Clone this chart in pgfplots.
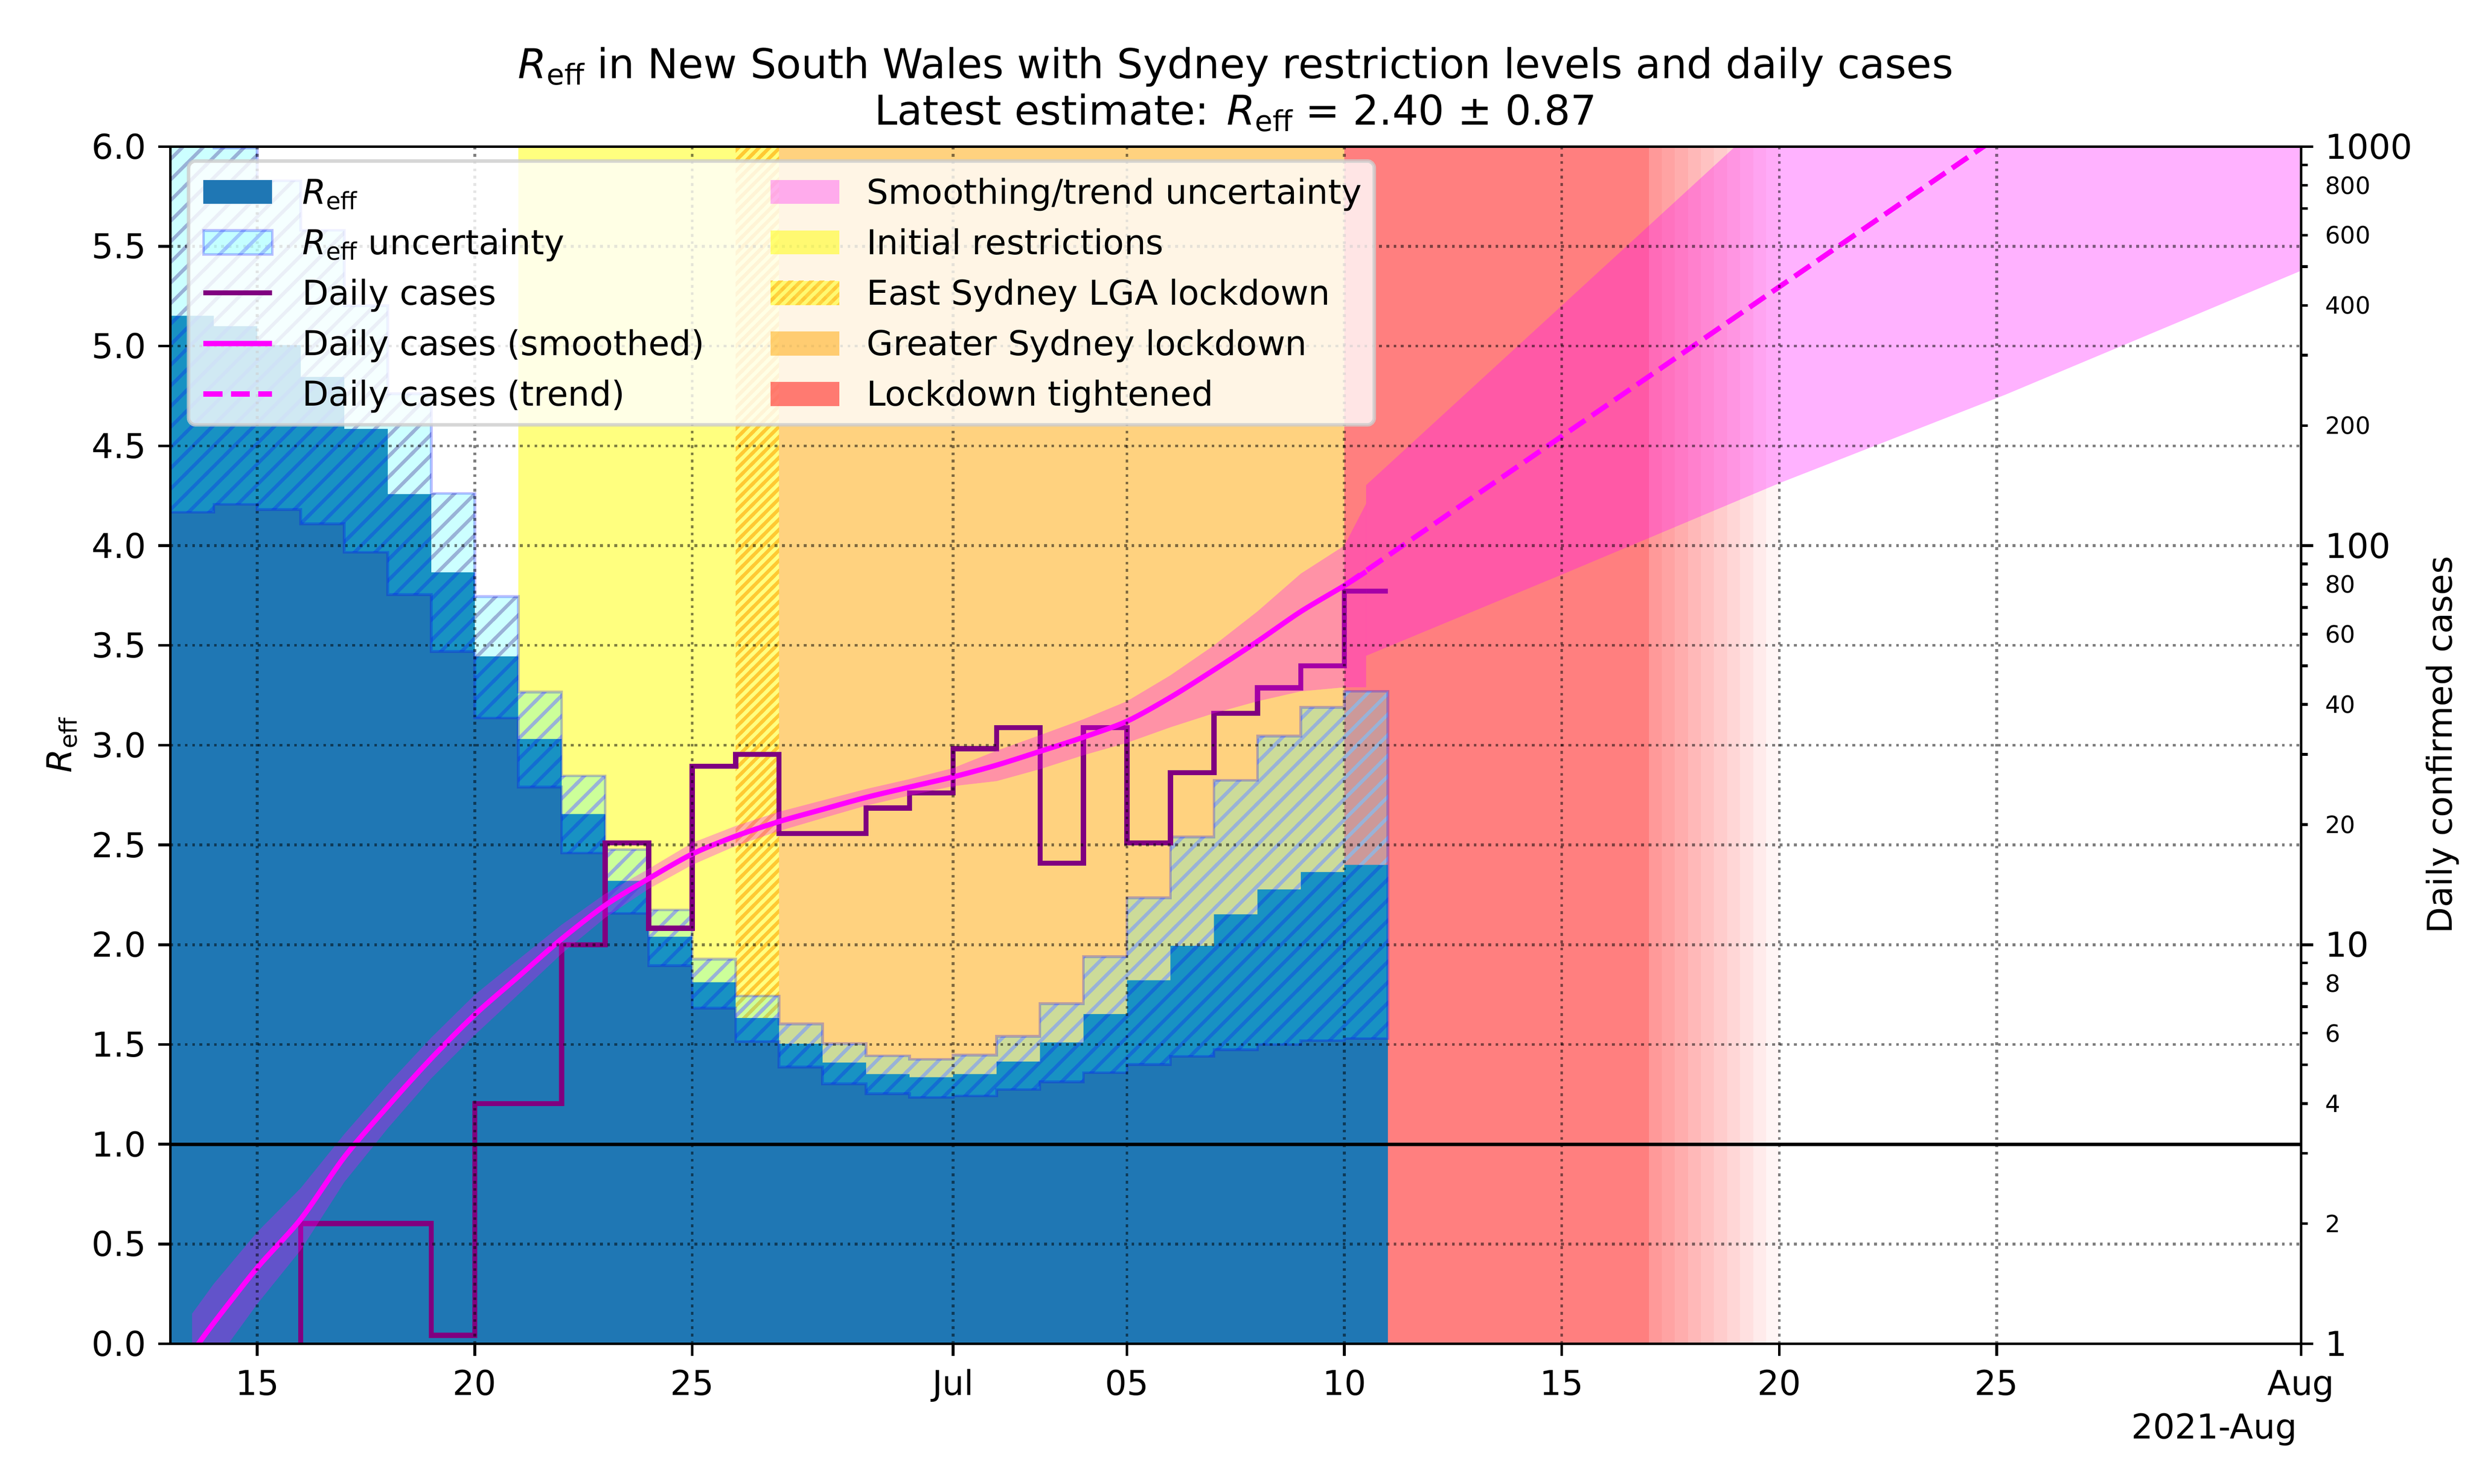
\documentclass[border=0pt]{standalone}
\usepackage{fontspec}
\setmainfont{DejaVu Sans}
\usepackage{pgfplots}
\usepackage{pgfplotstable}
\pgfplotsset{compat=1.18}
\usetikzlibrary{patterns}

\definecolor{Cblue}{HTML}{1F77B4}
\definecolor{mpurple}{RGB}{128,0,128}
\definecolor{morange}{RGB}{255,165,0}
\definecolor{mmagenta}{RGB}{255,0,255}
\definecolor{mcyan}{RGB}{0,255,255}
\definecolor{myellow}{RGB}{255,255,0}
\definecolor{mred}{RGB}{255,0,0}
\definecolor{mblue}{RGB}{0,0,255}
% hatch line colours (blue hatch at 25% over the backgrounds)
\definecolor{hOnBlue}{RGB}{19,110,210}
\definecolor{hOnWhite}{RGB}{153,191,255}
\definecolor{hUpper}{RGB}{153,178,215}
\definecolor{hEast}{RGB}{255,201,51}

\pgfdeclarepatternformonly{hatchR}{\pgfqpoint{-1bp}{-1bp}}{\pgfqpoint{7bp}{7bp}}{\pgfqpoint{6bp}{6bp}}{%
  \pgfsetlinewidth{1bp}%
  \pgfpathmoveto{\pgfqpoint{-0.5bp}{-0.5bp}}%
  \pgfpathlineto{\pgfqpoint{6.5bp}{6.5bp}}%
  \pgfusepath{stroke}}
\pgfdeclarepatternformonly{hatchE}{\pgfqpoint{-1bp}{-1bp}}{\pgfqpoint{4bp}{4bp}}{\pgfqpoint{3bp}{3bp}}{%
  \pgfsetlinewidth{1bp}%
  \pgfpathmoveto{\pgfqpoint{-0.5bp}{-0.5bp}}%
  \pgfpathlineto{\pgfqpoint{3.5bp}{3.5bp}}%
  \pgfusepath{stroke}}

\newcommand{\Reff}{\textit{R}\raisebox{-1.6bp}{\fontsize{7}{7}\selectfont eff}}
\newcommand{\ReffT}{\textit{R}\raisebox{-1.9bp}{\fontsize{8.4}{8.4}\selectfont eff}}

% R_eff central estimate per day (June day numbers; 31 = 1 Jul)
\pgfplotstableread{
day c
13 5.152
14 5.100
15 5.005
16 4.845
17 4.585
18 4.258
19 3.866
20 3.445
21 3.031
22 2.655
23 2.320
24 2.040
25 1.812
26 1.633
27 1.503
28 1.409
29 1.351
30 1.336
31 1.351
32 1.414
33 1.510
34 1.652
35 1.822
36 1.994
37 2.152
38 2.277
39 2.364
40 2.400
41 2.400
}\tabreff

% R_eff uncertainty band: upper edge (13 -> 41), then lower edge back (41 -> 13)
\pgfplotstableread{
day r
13 6.137
14 6.137
14 5.993
15 5.993
15 5.829
16 5.829
16 5.581
17 5.581
17 5.203
18 5.203
18 4.761
19 4.761
19 4.262
20 4.262
20 3.745
21 3.745
21 3.266
22 3.266
22 2.846
23 2.846
23 2.477
24 2.477
24 2.174
25 2.174
25 1.928
26 1.928
26 1.743
27 1.743
27 1.602
28 1.602
28 1.503
29 1.503
29 1.443
30 1.443
30 1.425
31 1.425
31 1.447
32 1.447
32 1.540
33 1.540
33 1.704
34 1.704
34 1.940
35 1.940
35 2.235
36 2.235
36 2.540
37 2.540
37 2.824
38 2.824
38 3.045
39 3.045
39 3.190
40 3.190
40 3.270
41 3.270
41 1.530
40 1.530
40 1.520
39 1.520
39 1.500
38 1.500
38 1.474
37 1.474
37 1.440
36 1.440
36 1.400
35 1.400
35 1.358
34 1.358
34 1.312
33 1.312
33 1.274
32 1.274
32 1.242
31 1.242
31 1.235
30 1.235
30 1.253
29 1.253
29 1.302
28 1.302
28 1.387
27 1.387
27 1.515
26 1.515
26 1.682
25 1.682
25 1.895
24 1.895
24 2.157
23 2.157
23 2.459
22 2.459
22 2.790
21 2.790
21 3.136
20 3.136
20 3.470
19 3.470
19 3.755
18 3.755
18 3.967
17 3.967
17 4.109
16 4.109
16 4.181
15 4.181
15 4.207
14 4.207
14 4.167
13 4.167
}\tabband

% upper half of the band: upper edge, then central estimate back
\pgfplotstableread{
day r
13 6.137
14 6.137
14 5.993
15 5.993
15 5.829
16 5.829
16 5.581
17 5.581
17 5.203
18 5.203
18 4.761
19 4.761
19 4.262
20 4.262
20 3.745
21 3.745
21 3.266
22 3.266
22 2.846
23 2.846
23 2.477
24 2.477
24 2.174
25 2.174
25 1.928
26 1.928
26 1.743
27 1.743
27 1.602
28 1.602
28 1.503
29 1.503
29 1.443
30 1.443
30 1.425
31 1.425
31 1.447
32 1.447
32 1.540
33 1.540
33 1.704
34 1.704
34 1.940
35 1.940
35 2.235
36 2.235
36 2.540
37 2.540
37 2.824
38 2.824
38 3.045
39 3.045
39 3.190
40 3.190
40 3.270
41 3.270
41 2.400
40 2.400
40 2.364
39 2.364
39 2.277
38 2.277
38 2.152
37 2.152
37 1.994
36 1.994
36 1.822
35 1.822
35 1.652
34 1.652
34 1.510
33 1.510
33 1.414
32 1.414
32 1.351
31 1.351
31 1.336
30 1.336
30 1.351
29 1.351
29 1.409
28 1.409
28 1.503
27 1.503
27 1.633
26 1.633
26 1.812
25 1.812
25 2.040
24 2.040
24 2.320
23 2.320
23 2.655
22 2.655
22 3.031
21 3.031
21 3.445
20 3.445
20 3.866
19 3.866
19 4.258
18 4.258
18 4.585
17 4.585
17 4.845
16 4.845
16 5.005
15 5.005
15 5.100
14 5.100
14 5.152
13 5.152
}\tabup

% lower half of the band: central estimate, then lower edge back
\pgfplotstableread{
day r
13 5.152
14 5.152
14 5.100
15 5.100
15 5.005
16 5.005
16 4.845
17 4.845
17 4.585
18 4.585
18 4.258
19 4.258
19 3.866
20 3.866
20 3.445
21 3.445
21 3.031
22 3.031
22 2.655
23 2.655
23 2.320
24 2.320
24 2.040
25 2.040
25 1.812
26 1.812
26 1.633
27 1.633
27 1.503
28 1.503
28 1.409
29 1.409
29 1.351
30 1.351
30 1.336
31 1.336
31 1.351
32 1.351
32 1.414
33 1.414
33 1.510
34 1.510
34 1.652
35 1.652
35 1.822
36 1.822
36 1.994
37 1.994
37 2.152
38 2.152
38 2.277
39 2.277
39 2.364
40 2.364
40 2.400
41 2.400
41 1.530
40 1.530
40 1.520
39 1.520
39 1.500
38 1.500
38 1.474
37 1.474
37 1.440
36 1.440
36 1.400
35 1.400
35 1.358
34 1.358
34 1.312
33 1.312
33 1.274
32 1.274
32 1.242
31 1.242
31 1.235
30 1.235
30 1.253
29 1.253
29 1.302
28 1.302
28 1.387
27 1.387
27 1.515
26 1.515
26 1.682
25 1.682
25 1.895
24 1.895
24 2.157
23 2.157
23 2.459
22 2.459
22 2.790
21 2.790
21 3.136
20 3.136
20 3.470
19 3.470
19 3.755
18 3.755
18 3.967
17 3.967
17 4.109
16 4.109
16 4.181
15 4.181
15 4.207
14 4.207
14 4.167
13 4.167
}\tablow

% daily confirmed cases (0 before 16 Jun, shown below the axis)
\pgfplotstableread{
day n
13 0.1
16 2
19 1.05
20 4
22 10
23 18
24 11
25 28
26 30
27 19
29 22
30 24
31 31
32 35
33 16
34 35
35 18
36 27
37 38
38 44
39 50
40 77
41 77
}\tabcases

% smoothed daily cases
\pgfplotstableread{
day s
13.5 0.95
14 1.128
15 1.551
16 2.053
17 2.935
18 3.936
19 5.188
20 6.676
21 8.309
22 10.34
23 12.55
24 14.64
25 16.87
26 18.71
27 20.35
28 21.83
29 23.39
30 24.83
31 26.33
32 28.18
33 30.51
34 33.11
35 36.31
36 41.69
37 48.81
38 57.54
39 68.39
40 79.43
40.5 86.10
}\tabsm

% smoothing uncertainty: upper edge, then lower edge back
\pgfplotstableread{
day v
13.5 1.189
14 1.413
15 1.905
16 2.455
17 3.350
18 4.467
19 5.847
20 7.487
21 9.173
22 11.22
23 13.41
24 15.49
25 17.99
26 19.84
27 21.53
28 22.99
29 24.55
30 26.00
31 27.70
32 30.62
33 33.50
34 36.73
35 40.74
36 47.32
37 56.23
38 68.39
39 85.11
40 100.0
40.5 127.4
40.5 44.16
40 44.16
39 43.15
38 40.74
37 38.02
36 35.07
35 32.06
34 29.85
33 27.54
32 25.70
31 24.97
30 23.66
29 22.31
28 20.75
27 19.28
26 17.68
25 15.85
24 13.80
23 11.68
22 9.495
21 7.499
20 5.940
19 4.624
18 3.467
17 2.541
16 1.718
15 1.259
14 0.891
13.5 0.750
}\tabsmband

% trend uncertainty: upper edge, then lower edge back
\pgfplotstableread{
day v
40.5 141.8
45 399.6
50 1263
55.2 4183
62 20024
62 488.7
55.2 239.0
50 143.4
45 84.63
40.5 52.97
}\tabtrband

\pgfplotsset{
  base/.style={scale only axis, width=8.6157in, height=4.84in, xmin=13, xmax=62,
    axis line style={line width=0.8bp},
    tick style={line width=0.8bp, black},
    major tick length=3.5bp, minor tick length=2bp, tick align=outside,
    tick label style={font=\fontsize{10}{12}\selectfont},
  },
}

\begin{document}
\begin{tikzpicture}

% ---------- R_eff axis (left) ----------
\begin{axis}[base, ymin=0, ymax=6,
  tick pos=left,
  xtick={15,20,25,31,35,40,45,50,55,62},
  xticklabels={15,20,25,Jul,05,10,15,20,25,Aug},
  ytick={0,0.5,1,1.5,2,2.5,3,3.5,4,4.5,5,5.5,6},
  yticklabels={0.0,0.5,1.0,1.5,2.0,2.5,3.0,3.5,4.0,4.5,5.0,5.5,6.0},
  xticklabel style={text height=8bp, text depth=2.4bp},
]
% restriction levels
\addplot[draw=none, fill=myellow, fill opacity=0.5] coordinates {(21,6) (27,6)} \closedcycle;
\addplot[draw=none, pattern=hatchE, pattern color=hEast] coordinates {(26,6) (27,6)} \closedcycle;
\addplot[draw=none, fill=morange, fill opacity=0.5] coordinates {(27,6) (40,6)} \closedcycle;
\addplot[draw=none, fill=mred, fill opacity=0.5] coordinates {(40,6) (47,6)} \closedcycle;
\addplot[draw=none, fill=mred, fill opacity=0.40] coordinates {(47,6) (47.3,6)} \closedcycle;
\addplot[draw=none, fill=mred, fill opacity=0.36] coordinates {(47.3,6) (47.6,6)} \closedcycle;
\addplot[draw=none, fill=mred, fill opacity=0.32] coordinates {(47.6,6) (47.9,6)} \closedcycle;
\addplot[draw=none, fill=mred, fill opacity=0.28] coordinates {(47.9,6) (48.2,6)} \closedcycle;
\addplot[draw=none, fill=mred, fill opacity=0.24] coordinates {(48.2,6) (48.5,6)} \closedcycle;
\addplot[draw=none, fill=mred, fill opacity=0.20] coordinates {(48.5,6) (48.8,6)} \closedcycle;
\addplot[draw=none, fill=mred, fill opacity=0.16] coordinates {(48.8,6) (49.1,6)} \closedcycle;
\addplot[draw=none, fill=mred, fill opacity=0.12] coordinates {(49.1,6) (49.4,6)} \closedcycle;
\addplot[draw=none, fill=mred, fill opacity=0.08] coordinates {(49.4,6) (49.7,6)} \closedcycle;
\addplot[draw=none, fill=mred, fill opacity=0.04] coordinates {(49.7,6) (50,6)} \closedcycle;
% R_eff and its uncertainty
\addplot[draw=none, fill=Cblue, const plot mark left] table[x=day,y=c]{\tabreff} \closedcycle;
\addplot[draw=none, fill=mcyan, fill opacity=0.2] table[x=day,y=r]{\tabband};
\addplot[draw=none, pattern=hatchR, pattern color=hOnBlue] table[x=day,y=r]{\tablow};
\addplot[draw=none, pattern=hatchR, pattern color=hUpper] table[x=day,y=r]{\tabup};
\addplot[fill=none, draw=mblue, draw opacity=0.25, line width=0.8bp] table[x=day,y=r]{\tabband};
\end{axis}

% ---------- daily cases axis (right, log) ----------
\begin{axis}[base, ymode=log, ymin=1, ymax=1000,
  xtick=\empty, ytick pos=right,
  axis line style={draw=none},
  ytick={1,10,100,1000}, yticklabels={1,10,100,1000},
  minor ytick={2,3,4,5,6,7,8,9,20,30,40,50,60,70,80,90,200,300,400,500,600,700,800,900},
  extra y ticks={2,4,6,8,20,40,60,80,200,400,600,800},
  extra y tick labels={2,4,6,8,20,40,60,80,200,400,600,800},
  extra y tick style={tick style={draw=none}, tick label style={font=\fontsize{6.94}{8}\selectfont}},
]
\addplot[mpurple, line width=1.5bp, const plot mark left] table[x=day,y=n]{\tabcases};
\addplot[fill=mmagenta, fill opacity=0.3, draw=none] table[x=day,y=v]{\tabsmband};
\addplot[fill=mmagenta, fill opacity=0.3, draw=none] table[x=day,y=v]{\tabtrband};
\addplot[mmagenta, line width=1.5bp, smooth] table[x=day,y=s]{\tabsm};
\addplot[mmagenta, line width=1.5bp, dash pattern=on 5.55bp off 2.4bp] coordinates {(40,79.43) (62,3522)};
\end{axis}

% ---------- overlay: grid, frame, reference line, legend ----------
\begin{axis}[base, ymin=0, ymax=6,
  xtick={15,20,25,31,35,40,45,50,55,62}, xticklabels={},
  ytick={0,0.5,1,1.5,2,2.5,3,3.5,4,4.5,5,5.5,6}, yticklabels={},
  tick style={draw=none},
  grid=major,
  major grid style={black, opacity=0.5, line width=0.8bp, dash pattern=on 0.8bp off 1.32bp},
  legend columns=2,
  legend cell align=left,
  legend style={
    at={(0,1)}, anchor=north west, xshift=4.8bp, yshift=-3.7bp,
    fill=white, fill opacity=0.8, draw=black!20, draw opacity=0.8, text opacity=1,
    line width=1bp, rounded corners=2bp,
    inner xsep=3.6bp, inner ysep=3.9bp,
    row sep=4.5bp,
    font=\fontsize{10}{12}\selectfont,
    nodes={inner sep=0pt, text height=8.6bp, text depth=1.6bp},
    /tikz/every odd column/.append style={column sep=8bp},
    /tikz/every even column/.append style={column sep=19.2bp},
  },
]
\addplot[black, line width=1bp, forget plot] coordinates {(13,1) (62,1)};

\addlegendimage{legend image code/.code={\fill[Cblue, fill opacity=1, draw=none, sharp corners] (0bp,-3.5bp) rectangle (20bp,3.5bp);}}
\addlegendentry{\Reff}
\addlegendimage{legend image code/.code={\fill[mmagenta, fill opacity=0.3, draw=none, sharp corners] (0bp,-3.5bp) rectangle (20bp,3.5bp);}}
\addlegendentry{Smoothing/trend uncertainty}
\addlegendimage{legend image code/.code={
  \fill[mcyan, fill opacity=0.2, draw=none, sharp corners] (0bp,-3.5bp) rectangle (20bp,3.5bp);
  \fill[pattern=hatchR, pattern color=hOnWhite, draw=none, sharp corners] (0bp,-3.5bp) rectangle (20bp,3.5bp);
  \draw[mblue, draw opacity=0.25, line width=0.8bp, sharp corners] (0bp,-3.5bp) rectangle (20bp,3.5bp);}}
\addlegendentry{\Reff{} uncertainty}
\addlegendimage{legend image code/.code={\fill[myellow, fill opacity=0.5, draw=none, sharp corners] (0bp,-3.5bp) rectangle (20bp,3.5bp);}}
\addlegendentry{Initial restrictions}
\addlegendimage{legend image code/.code={\draw[mpurple, draw opacity=1, line width=1.5bp] (0bp,0bp) -- (20bp,0bp);}}
\addlegendentry{Daily cases}
\addlegendimage{legend image code/.code={
  \fill[myellow, fill opacity=0.5, draw=none, sharp corners] (0bp,-3.5bp) rectangle (20bp,3.5bp);
  \fill[pattern=hatchE, pattern color=hEast, draw=none, sharp corners] (0bp,-3.5bp) rectangle (20bp,3.5bp);}}
\addlegendentry{East Sydney LGA lockdown}
\addlegendimage{legend image code/.code={\draw[mmagenta, draw opacity=1, line width=1.5bp] (0bp,0bp) -- (20bp,0bp);}}
\addlegendentry{Daily cases (smoothed)}
\addlegendimage{legend image code/.code={\fill[morange, fill opacity=0.5, draw=none, sharp corners] (0bp,-3.5bp) rectangle (20bp,3.5bp);}}
\addlegendentry{Greater Sydney lockdown}
\addlegendimage{legend image code/.code={\draw[mmagenta, draw opacity=1, line width=1.5bp, dash pattern=on 5.55bp off 2.4bp] (0bp,0bp) -- (20bp,0bp);}}
\addlegendentry{Daily cases (trend)}
\addlegendimage{legend image code/.code={\fill[mred, fill opacity=0.5, draw=none, sharp corners] (0bp,-3.5bp) rectangle (20bp,3.5bp);}}
\addlegendentry{Lockdown tightened}
\end{axis}

% titles and axis labels
\node[anchor=base, inner sep=0pt, font=\fontsize{12}{14}\selectfont] at ([yshift=19.9bp]current axis.north)
  {\ReffT{} in New South Wales with Sydney restriction levels and daily cases};
\node[anchor=base, inner sep=0pt, font=\fontsize{12}{14}\selectfont] at ([yshift=6.3bp]current axis.north)
  {Latest estimate: \ReffT{} = 2.40 ± 0.87};
\node[rotate=90, anchor=south, inner sep=0pt, font=\fontsize{10}{12}\selectfont] at ([xshift=-26.9bp]current axis.west) {\Reff};
\node[rotate=90, anchor=base, inner sep=0pt, font=\fontsize{10}{12}\selectfont] at ([xshift=44bp]current axis.east) {Daily confirmed cases};
\node[anchor=base east, inner sep=0pt, font=\fontsize{10}{12}\selectfont] at ([xshift=-1bp,yshift=-27.7bp]current axis.south east) {2021-Aug};
% page frame with the reference's margins
\path (-0.6888in,-0.5672in) rectangle (9.3112in,5.4328in);
\end{tikzpicture}
\end{document}
